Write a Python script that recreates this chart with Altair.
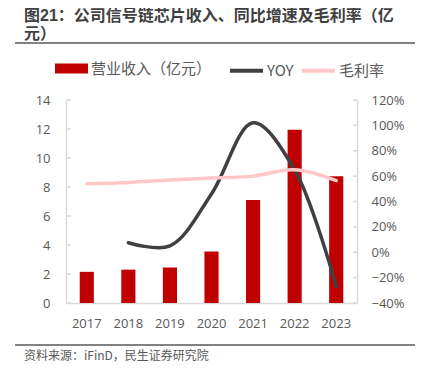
import altair as alt
import pandas as pd

years = ["2017", "2018", "2019", "2020", "2021", "2022", "2023"]
revenue = [2.15, 2.3, 2.45, 3.55, 7.1, 11.95, 8.75]
yoy_years = ["2018", "2019", "2020", "2021", "2022", "2023"]
yoy = [0.075, 0.05, 0.46, 1.02, 0.65, -0.27]
margin = [0.54, 0.55, 0.57, 0.585, 0.60, 0.65, 0.565]

left_ticks = [0, 2, 4, 6, 8, 10, 12, 14]
right_ticks = [-0.4, -0.2, 0, 0.2, 0.4, 0.6, 0.8, 1.0, 1.2]

bar_name = "营业收入（亿元）"
yoy_name = "YOY"
margin_name = "毛利率"

title_lines = ["图21：公司信号链芯片收入、同比增速及毛利率（亿", "元）"]
source_text = "资料来源：iFinD，民生证券研究院"

CJK = "Noto Sans CJK SC"
TITLE_FONT = "Liberation Sans, Noto Sans CJK SC"
NUM = "Open Sans"
GRAY = "#595959"
AXIS = "#D9D9D9"
W, H = 291, 203

bar_df = pd.DataFrame({"year": years, "value": revenue, "series": bar_name})
line_df = pd.concat([
    pd.DataFrame({"year": yoy_years, "value": yoy, "series": yoy_name}),
    pd.DataFrame({"year": years, "value": margin, "series": margin_name}),
])

x_enc = alt.X("year:O", sort=years,
              scale=alt.Scale(paddingInner=0.66, paddingOuter=0.33),
              axis=alt.Axis(title=None, labelAngle=0, ticks=False, labelPadding=14,
                            domainColor=AXIS, domainWidth=1.5, labelColor=GRAY,
                            labelFont=NUM, labelFontSize=13))

left_axis = alt.Axis(title=None, values=left_ticks, grid=False, ticks=False,
                     labelPadding=16, domainColor=AXIS, domainWidth=1.5,
                     labelColor=GRAY, labelFont=NUM, labelFontSize=13)
left_scale = alt.Scale(domain=[0, 14])
right_axis = alt.Axis(title=None, orient="right", values=right_ticks, format=".0%",
                      grid=False, ticks=False, labelPadding=14, domainColor=AXIS,
                      domainWidth=1.5, labelColor=GRAY, labelFont=NUM, labelFontSize=13)
right_scale = alt.Scale(domain=[-0.4, 1.2])

bars = alt.Chart(bar_df).mark_bar(color="#C00000").encode(
    x=x_enc,
    y=alt.Y("value:Q", scale=left_scale, axis=left_axis),
    color=alt.Color("series:N", scale=alt.Scale(domain=[bar_name], range=["#C00000"]),
                    legend=alt.Legend(title=None, orient="none", legendX=-11, legendY=-48,
                                      symbolType="M-1,-0.3H1V0.3H-1Z", symbolSize=1089,
                                      symbolStrokeWidth=0, symbolOpacity=1,
                                      labelFont=CJK, labelFontSize=15, labelColor=GRAY,
                                      labelOffset=3)),
)
left_tk = alt.Chart(pd.DataFrame({"value": left_ticks})).mark_rule(
    color=AXIS, strokeWidth=1.5).encode(
    y=alt.Y("value:Q", scale=left_scale, axis=left_axis),
    x=alt.value(0), x2=alt.value(5))

lines = alt.Chart(line_df).mark_line(interpolate="catmull-rom", strokeWidth=3.5,
                                     strokeCap="round").encode(
    x=alt.X("year:O", sort=years),
    y=alt.Y("value:Q", scale=right_scale, axis=right_axis),
    stroke=alt.Stroke("series:N",
                      scale=alt.Scale(domain=[yoy_name, margin_name],
                                      range=["#404040", "#FFC7C7"]),
                      legend=alt.Legend(title=None, orient="none", direction="horizontal",
                                        legendX=162, legendY=-48, symbolType="stroke",
                                        symbolSize=1089, symbolStrokeWidth=4,
                                        labelFont=CJK, labelFontSize=15, labelColor=GRAY,
                                        labelOffset=2, columnPadding=0)),
    detail="series:N",
)
right_tk = alt.Chart(pd.DataFrame({"value": right_ticks})).mark_rule(
    color=AXIS, strokeWidth=1.5).encode(
    y=alt.Y("value:Q", scale=right_scale, axis=right_axis),
    x=alt.value(W - 4), x2=alt.value(W))

left = alt.layer(bars, left_tk)
right = alt.layer(lines, right_tk)

deco = pd.DataFrame({"k": [0]})
top_rule = alt.Chart(deco).mark_rule(color="#595959", strokeWidth=1.5).encode(
    x=alt.value(-51), x2=alt.value(349), y=alt.value(-57))
bottom_rule = alt.Chart(deco).mark_rule(color="#595959", strokeWidth=1.5).encode(
    x=alt.value(-51), x2=alt.value(349), y=alt.value(245))
source = alt.Chart(pd.DataFrame({"t": [source_text]})).mark_text(
    align="left", baseline="alphabetic", font=CJK, fontSize=12, color=GRAY).encode(
    text="t:N", x=alt.value(-42), y=alt.value(260))

chart = alt.layer(left, right, top_rule, bottom_rule, source).resolve_scale(
    y="independent", color="independent", stroke="independent"
).properties(
    width=W, height=H,
    title=alt.TitleParams(text=title_lines, anchor="start", frame="group", dx=-42,
                          font=TITLE_FONT, fontSize=16, fontWeight="bold",
                          color="#404040", lineHeight=18, offset=0),
    autosize=alt.AutoSizeParams(type="none"),
    padding={"left": 58, "top": 92, "right": 58, "bottom": 66},
).configure_view(stroke=None)

chart.save("out.html", embed_options={"renderer": "svg", "actions": False})
